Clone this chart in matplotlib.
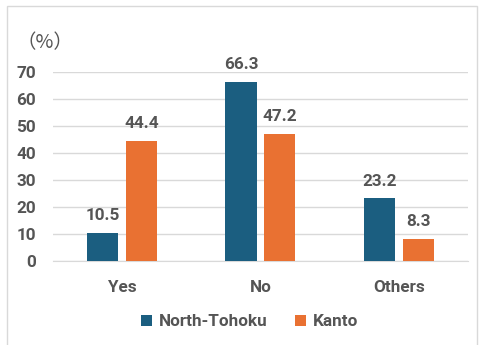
import numpy as np
import matplotlib
matplotlib.use("Agg")
import matplotlib.pyplot as plt
from matplotlib.patches import Rectangle

categories = ["Yes", "No", "Others"]
north_tohoku = [10.5, 66.3, 23.2]
kanto = [44.4, 47.2, 8.3]
yticks = [0, 10, 20, 30, 40, 50, 60, 70]

text_color = "#555555"
blue = "#1B5E80"
orange = "#E97132"
font = ["Roboto", "DejaVu Sans"]
fs = 12.3

fig = plt.figure(figsize=(4.8, 3.45), dpi=100)
ax = fig.add_axes([0.110, 0.2435, 0.865, 0.5475])

x = np.arange(len(categories))
w = 0.225
off = 0.14
b1 = ax.bar(x - off, north_tohoku, w, color=blue, label="North-Tohoku", zorder=3)
b2 = ax.bar(x + off, kanto, w, color=orange, label="Kanto", zorder=3)

for bars, vals in ((b1, north_tohoku), (b2, kanto)):
    for bar, v in zip(bars, vals):
        ax.annotate("{:.1f}".format(v), (bar.get_x() + bar.get_width() / 2, v),
                    xytext=(0, 7), textcoords="offset points", ha="center",
                    va="bottom", fontsize=fs, fontweight="bold",
                    color=text_color, family=font)

ax.set_xlim(-0.5, 2.5)
ax.set_ylim(0, 70)
ax.set_yticks(yticks)
ax.set_xticks(x)
ax.set_xticklabels(categories)
ax.yaxis.grid(True, color="#D9D9D9", lw=1, zorder=0)
ax.tick_params(axis="both", length=0, labelsize=fs, labelcolor=text_color)
ax.tick_params(axis="y", pad=12)
ax.tick_params(axis="x", pad=14)
for lab in ax.get_xticklabels() + ax.get_yticklabels():
    lab.set_fontweight("bold")
    lab.set_family(font)
for s in ("top", "right", "left"):
    ax.spines[s].set_visible(False)
ax.spines["bottom"].set_color("#D9D9D9")

fig.text(17 / 480, 1 - 43 / 345, "（%）", ha="left", va="center", fontsize=14,
         color=text_color, family=["Noto Sans CJK JP", "DejaVu Sans"])

leg = fig.legend(loc="center", bbox_to_anchor=(0.52, 1 - 322 / 345), ncol=2,
                 frameon=False, handlelength=0.65, handleheight=0.65,
                 handletextpad=0.4, columnspacing=1.6,
                 prop={"size": fs, "weight": "bold", "family": font})
for t in leg.get_texts():
    t.set_color(text_color)

# light frame around the chart area
fig.patches.append(Rectangle((7 / 480, -0.05), 470 / 480, 1 - 6 / 345 + 0.05,
                             transform=fig.transFigure, fill=False,
                             edgecolor="#D9D9D9", lw=1))

fig.savefig("out.png", dpi=100)
